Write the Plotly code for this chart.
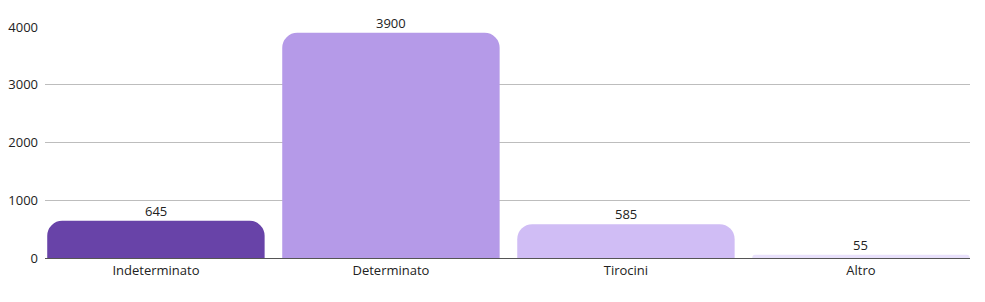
import plotly.graph_objects as go

categories = ["Indeterminato", "Determinato", "Tirocini", "Altro"]
values = [645, 3900, 585, 55]
colors = ["#6843a8", "#b59ae8", "#d0bdf5", "#e9e1fc"]
y_ticks = [0, 1000, 2000, 3000, 4000]

fig = go.Figure(
    go.Bar(
        x=categories,
        y=values,
        marker=dict(color=colors, cornerradius=15, line=dict(width=0)),
        width=0.925,
        hoverinfo="skip",
    )
)

for c, v in zip(categories, values):
    fig.add_annotation(
        x=c, y=v, text=str(v), showarrow=False,
        yanchor="bottom", yshift=-1,
        font=dict(family="Open Sans", size=13, color="#222222"),
    )

fig.update_layout(
    width=985,
    height=302,
    margin=dict(l=45, r=15, t=27, b=44),
    paper_bgcolor="white",
    plot_bgcolor="white",
    font=dict(family="Open Sans", size=13, color="#222222"),
    showlegend=False,
    xaxis=dict(
        range=[-0.472, 3.464],
        showline=True,
        linecolor="#555555",
        linewidth=1,
        showgrid=False,
        ticks="",
        automargin=False,
        tickfont=dict(size=13, color="#222222"),
    ),
    yaxis=dict(
        range=[0, 4000],
        tickvals=y_ticks,
        showgrid=True,
        gridcolor="#bdbdbd",
        gridwidth=1,
        zeroline=False,
        showline=False,
        ticks="",
        automargin=False,
        tickfont=dict(size=13, color="#222222"),
        ticklabelstandoff=6,
    ),
)

fig.write_html("out.html")
